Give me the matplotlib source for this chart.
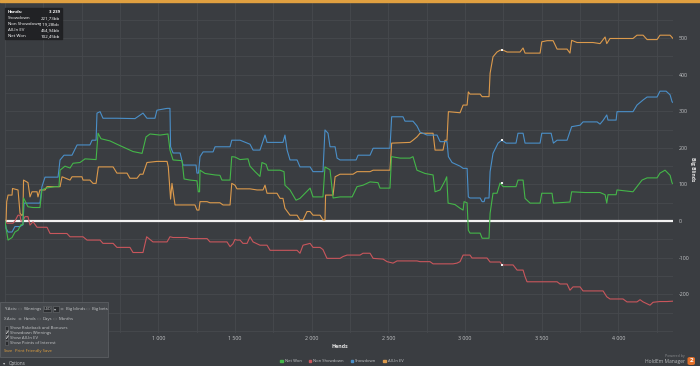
import matplotlib
matplotlib.use('Agg')
import matplotlib.pyplot as plt
from matplotlib.patches import Rectangle, FancyBboxPatch, Circle

# ---------------- data ----------------
net_won_hands = [0, 7, 20, 46, 65, 85, 104, 117, 121, 150, 183, 228, 241, 267, 326, 352, 359, 391, 424, 444, 489, 522, 594, 607, 626, 685, 730, 783, 835, 894, 920, 946, 1011, 1063, 1076, 1096, 1155, 1168, 1207, 1252, 1261, 1269, 1272, 1305, 1370, 1402, 1415, 1468, 1479, 1500, 1533, 1585, 1598, 1631, 1663, 1676, 1703, 1716, 1794, 1820, 1826, 1859, 1898, 1924, 1990, 2009, 2074, 2087, 2120, 2140, 2185, 2264, 2296, 2335, 2381, 2433, 2446, 2511, 2521, 2577, 2642, 2661, 2687, 2740, 2792, 2805, 2838, 2870, 2881, 2890, 2935, 2968, 2988, 2994, 3014, 3022, 3033, 3099, 3112, 3157, 3164, 3183, 3209, 3229, 3249, 3333, 3346, 3379, 3392, 3425, 3490, 3501, 3568, 3577, 3685, 3696, 3783, 3881, 3914, 3925, 3933, 3986, 3992, 4096, 4122, 4155, 4188, 4253, 4272, 4305, 4338, 4351, 4357]
net_won_bb = [0, -20, -52, -45, -30, -25, -10, -10, 63, 39, 37, 37, 85, 90, 94, 94, 139, 150, 145, 158, 160, 170, 168, 240, 225, 219, 210, 200, 190, 185, 230, 238, 235, 238, 194, 167, 165, 115, 112, 110, 80, 80, 139, 130, 126, 125, 112, 112, 176, 175, 168, 170, 150, 135, 122, 160, 155, 139, 139, 135, 98, 85, 57, 62, 90, 66, 66, 148, 140, 63, 66, 66, 94, 98, 107, 105, 90, 90, 176, 172, 172, 176, 139, 130, 126, 80, 85, 110, 121, 49, 45, 35, 30, 53, 50, -25, -33, -33, -47, -47, 21, 76, 76, 104, 94, 94, 112, 112, 62, 49, 49, 76, 76, 49, 52, 80, 78, 78, 72, 49, 72, 72, 85, 80, 94, 112, 118, 118, 131, 139, 125, 104, 102]

showdown_hands = [0, 7, 20, 46, 65, 98, 117, 124, 163, 228, 241, 261, 346, 359, 385, 437, 470, 554, 568, 594, 600, 620, 639, 730, 848, 900, 926, 978, 991, 1057, 1076, 1080, 1096, 1142, 1161, 1246, 1252, 1262, 1272, 1292, 1357, 1370, 1468, 1479, 1533, 1598, 1618, 1663, 1676, 1696, 1709, 1813, 1826, 1840, 1859, 1905, 1924, 1990, 2009, 2074, 2087, 2107, 2120, 2153, 2166, 2185, 2290, 2303, 2381, 2401, 2511, 2522, 2596, 2609, 2661, 2687, 2707, 2753, 2818, 2838, 2883, 2892, 2916, 2968, 2988, 3014, 3022, 3033, 3099, 3112, 3125, 3131, 3157, 3164, 3183, 3216, 3240, 3268, 3333, 3346, 3379, 3392, 3490, 3501, 3562, 3577, 3601, 3666, 3696, 3751, 3770, 3862, 3881, 3901, 3925, 3933, 3986, 3992, 4096, 4122, 4162, 4188, 4253, 4272, 4312, 4338, 4351, 4357]
showdown_bb = [0, -20, -30, -30, -15, -15, -10, 49, 49, 49, 94, 120, 120, 167, 180, 180, 208, 208, 221, 221, 295, 299, 281, 281, 280, 295, 281, 281, 303, 308, 308, 203, 186, 186, 153, 153, 131, 131, 176, 189, 189, 203, 203, 221, 221, 210, 194, 194, 210, 235, 215, 215, 235, 194, 167, 167, 148, 148, 135, 135, 249, 240, 203, 203, 172, 167, 167, 180, 180, 199, 199, 285, 285, 273, 273, 260, 243, 235, 235, 217, 217, 176, 160, 150, 144, 144, 66, 63, 63, 53, 53, 63, 63, 135, 185, 213, 221, 213, 213, 240, 240, 213, 213, 240, 240, 213, 221, 221, 258, 262, 271, 271, 265, 275, 290, 276, 276, 299, 299, 317, 331, 339, 339, 355, 355, 345, 326, 324]

non_showdown_hands = [0, 13, 52, 65, 85, 98, 104, 117, 130, 150, 163, 183, 209, 274, 294, 404, 424, 509, 535, 620, 639, 705, 730, 815, 835, 900, 924, 965, 1057, 1076, 1096, 1187, 1207, 1318, 1337, 1448, 1468, 1487, 1500, 1513, 1533, 1552, 1579, 1598, 1618, 1663, 1709, 1729, 1905, 1924, 1944, 1990, 2009, 2055, 2074, 2100, 2185, 2205, 2231, 2316, 2335, 2381, 2401, 2466, 2492, 2531, 2557, 2687, 2707, 2772, 2792, 2922, 2948, 2968, 2988, 3033, 3046, 3144, 3164, 3229, 3242, 3314, 3340, 3379, 3392, 3405, 3601, 3620, 3666, 3685, 3705, 3751, 3770, 3901, 3925, 3946, 4031, 4057, 4122, 4142, 4162, 4207, 4227, 4272, 4318, 4357]
non_showdown_bb = [0, -6, -6, 0, 16, 16, 0, 0, 12, 12, -11, -2, -17, -17, -34, -34, -43, -43, -52, -52, -61, -61, -72, -72, -86, -86, -43, -57, -57, -43, -45, -45, -48, -48, -57, -57, -70, -62, -50, -52, -52, -61, -61, -43, -57, -66, -66, -80, -80, -88, -66, -61, -72, -72, -78, -102, -102, -97, -93, -93, -88, -88, -102, -104, -111, -115, -109, -109, -111, -111, -117, -117, -115, -111, -93, -93, -101, -101, -112, -112, -120, -120, -134, -134, -152, -166, -166, -172, -172, -189, -180, -180, -191, -191, -207, -213, -213, -221, -221, -215, -221, -230, -222, -220, -220, -219]

allin_ev_hands = [0, 7, 11, 20, 46, 49, 85, 98, 111, 117, 121, 150, 163, 176, 209, 215, 228, 261, 274, 359, 372, 424, 437, 502, 509, 554, 574, 594, 609, 705, 730, 796, 815, 861, 881, 900, 926, 991, 1057, 1065, 1076, 1080, 1089, 1109, 1239, 1252, 1265, 1272, 1318, 1337, 1402, 1422, 1468, 1479, 1500, 1513, 1598, 1644, 1683, 1696, 1709, 1774, 1794, 1813, 1826, 1859, 1905, 1924, 1944, 1970, 1990, 2009, 2055, 2074, 2087, 2091, 2140, 2153, 2185, 2270, 2296, 2381, 2401, 2511, 2522, 2642, 2661, 2687, 2707, 2792, 2805, 2857, 2870, 2883, 2892, 2968, 2988, 3014, 3022, 3033, 3099, 3112, 3157, 3164, 3183, 3209, 3229, 3249, 3275, 3359, 3379, 3392, 3490, 3501, 3536, 3575, 3601, 3666, 3685, 3696, 3731, 3835, 3881, 3914, 3925, 3946, 4096, 4122, 4162, 4188, 4253, 4272, 4338, 4357]
allin_ev_bb = [0, 0, 53, 71, 71, 89, 85, 21, 15, 20, 112, 105, 66, 80, 80, 66, 85, 85, 94, 94, 121, 112, 121, 121, 112, 112, 103, 103, 148, 148, 131, 131, 117, 117, 128, 128, 160, 163, 163, 148, 85, 60, 103, 44, 44, 30, 30, 53, 53, 50, 50, 44, 44, 103, 98, 88, 88, 85, 85, 98, 76, 76, 62, 62, 35, 16, 16, 3, 3, 26, 26, 16, 16, 3, 3, 71, 71, 121, 128, 128, 135, 135, 139, 139, 213, 215, 221, 230, 240, 240, 194, 194, 221, 221, 299, 296, 317, 317, 353, 347, 347, 340, 340, 404, 449, 462, 467, 467, 462, 462, 473, 459, 459, 490, 493, 493, 470, 470, 459, 494, 488, 488, 485, 503, 485, 499, 499, 508, 508, 496, 496, 508, 508, 499]

poi_hand = 3240
poi_values = [103, -120, 221, 467]   # net won, non showdown, showdown, all-in ev

series_names = ['Net Won', 'Non Showdown', 'Showdown', 'All-In EV']
series_colors = ['#44b649', '#c9565c', '#4a8fc8', '#dc9a4c']

x_ticks = [500, 1000, 1500, 2000, 2500, 3000, 3500, 4000]
x_tick_labels = ['500', '1 000', '1 500', '2 000', '2 500', '3 000', '3 500', '4 000']
y_ticks = [-200, -100, 0, 100, 200, 300, 400, 500]
y_tick_labels = ['-200', '-100', '0', '100', '200', '300', '400', '500']

stats_labels = ['Hands:', 'Showdown', 'Non Showdown', 'All-In EV', 'Net Won']
stats_values = ['3 239', '221,73bb', '-119,28bb', '464,94bb', '102,45bb']

# ---------------- style ----------------
W, H = 700, 366
BG = '#3a3d41'
GRID = '#46494e'
TXT = '#c4c6c8'
FONT = ['Open Sans', 'DejaVu Sans']
plt.rcParams['font.family'] = FONT

fig = plt.figure(figsize=(W / 100, H / 100), dpi=100, facecolor=BG)


def fx(x):
    return x / W


def fy(y):
    return 1 - y / H


ax = fig.add_axes([fx(5), fy(333), (673 - 5) / W, (333 - 3) / H])
ax.set_facecolor(BG)
ax.set_xlim(0, 4357)
ax.set_ylim(-306, 596)
for s in ax.spines.values():
    s.set_visible(False)

ax.set_xticks(range(0, 4357, 250), minor=True)
ax.set_yticks(range(-300, 600, 50), minor=True)
ax.grid(True, which='minor', color=GRID, lw=0.6)
ax.grid(True, which='major', color=GRID, lw=0.6)
ax.axvline(4357, color=GRID, lw=0.8)

ax.set_xticks(x_ticks)
ax.set_xticklabels(x_tick_labels)
ax.set_yticks(y_ticks)
ax.set_yticklabels(y_tick_labels)
ax.yaxis.tick_right()
ax.tick_params(axis='both', which='both', length=0, colors=TXT, labelsize=3.8)
ax.tick_params(axis='x', pad=2)
ax.tick_params(axis='y', pad=4)

ax.plot([0, 4357], [0, 0], color='#f2f2f2', lw=1.6, zorder=2)

data = [(net_won_hands, net_won_bb), (non_showdown_hands, non_showdown_bb),
        (showdown_hands, showdown_bb), (allin_ev_hands, allin_ev_bb)]
order = [3, 1, 2, 0]
for i in order:
    h, v = data[i]
    ax.plot(h, v, color=series_colors[i], lw=0.8, zorder=3 + (i == 0))
for i, v in enumerate(poi_values):
    ax.plot([poi_hand], [v], marker='s', ms=1.8, color='#f0f0f0', mew=0, zorder=6)

# top orange bar
fig.patches.append(Rectangle((0, fy(2)), 1, 2 / H, transform=fig.transFigure,
                             color='#e0a040', zorder=10))

# axis titles
fig.text(fx(340), fy(347), 'Hands', color='#e6e6e6', fontsize=3.8,
         fontweight='bold', ha='center', va='center')
fig.text(fx(692), fy(169), 'Big Blinds', color='#e6e6e6', fontsize=3.6,
         fontweight='bold', ha='center', va='center', rotation=270)

# stats box
fig.patches.append(Rectangle((fx(5), fy(39)), 57 / W, 31 / H, transform=fig.transFigure,
                             color='#1f2022', alpha=0.9, zorder=10))
for k, (lab, val) in enumerate(zip(stats_labels, stats_values)):
    yy = 11.7 + k * 6.1
    fig.text(fx(7.5), fy(yy), lab, color='white', fontsize=3.2, ha='left',
             va='center', zorder=11, fontweight='bold' if k == 0 else 'normal')
    fig.text(fx(60), fy(yy), val, color='white', fontsize=3.2, ha='right',
             va='center', zorder=11, fontweight='bold' if k == 0 else 'normal')

# legend: laid out sequentially, centred under the plot
renderer = fig.canvas.get_renderer()
leg_fs = 3.0
items = []
total = 0.0
for name in series_names:
    tt = fig.text(0, 0, name, fontsize=leg_fs)
    w = tt.get_window_extent(renderer).width
    tt.remove()
    items.append(w)
    total += 4.5 + w
gap = 7.0
total += gap * (len(series_names) - 1)
xcur = 342 - total / 2
for i, name in enumerate(series_names):
    fig.patches.append(Rectangle((fx(xcur), fy(362.3)), 2.6 / W, 2.6 / H,
                                 transform=fig.transFigure, color=series_colors[i], zorder=10))
    fig.text(fx(xcur + 4.5), fy(361), name, color=TXT, fontsize=leg_fs,
             ha='left', va='center')
    xcur += 4.5 + items[i] + gap

# options panel
fig.patches.append(Rectangle((0, fy(357)), 108 / W, 55 / H, transform=fig.transFigure,
                             facecolor='#45484c', edgecolor='#5b5e62', lw=0.6, zorder=10))
fs = 3.1


def t(x, y, s, color=TXT, **kw):
    fig.text(fx(x), fy(y), s, color=color, fontsize=fs, ha='left', va='center', zorder=12, **kw)


def radio(x, y, on):
    fig.patches.append(Circle((fx(x), fy(y)), 1.6 / W, transform=fig.transFigure,
                              facecolor='#2a2c2f', edgecolor='#6a6d70', lw=0.4, zorder=11))
    if on:
        fig.patches.append(Circle((fx(x), fy(y)), 0.8 / W, transform=fig.transFigure,
                                  facecolor='#d8d8d8', lw=0, zorder=12))


t(4, 309, 'Y-Axis:')
radio(20, 309, False)
t(23.5, 309, 'Winnings')
fig.patches.append(Rectangle((fx(43), fy(312)), 8.5 / W, 6 / H, transform=fig.transFigure,
                             facecolor='#2b2d30', edgecolor='#6a6d70', lw=0.4, zorder=11))
fig.text(fx(47.2), fy(309), 'USD', color=TXT, fontsize=2.8, ha='center', va='center', zorder=12)
fig.patches.append(Rectangle((fx(52.5), fy(312)), 6 / W, 6 / H, transform=fig.transFigure,
                             facecolor='#2b2d30', edgecolor='#6a6d70', lw=0.4, zorder=11))
fig.text(fx(55.5), fy(309.3), '▾', color=TXT, fontsize=3, ha='center', va='center', zorder=12)
radio(62, 309, True)
t(65.5, 309, 'Big blinds')
radio(88, 309, False)
t(91.5, 309, 'Big bets')

t(4, 319, 'X-Axis:')
radio(20, 319, True)
t(23.5, 319, 'Hands')
radio(39, 319, False)
t(42.5, 319, 'Days')
radio(55, 319, False)
t(58.5, 319, 'Months')

checks = [('Show Rakeback and Bonuses', False), ('Showdown Winnings', True),
          ('Show All-In EV', True), ('Show Points of Interest', False)]
for k, (lab, on) in enumerate(checks):
    yy = 328 + k * 5
    fig.patches.append(Rectangle((fx(4.5), fy(yy + 1.7)), 3.4 / W, 3.4 / H, transform=fig.transFigure,
                                 facecolor='#2a2c2f', edgecolor='#6a6d70', lw=0.4, zorder=11))
    if on:
        fig.text(fx(6.4), fy(yy - 0.5), '✓', color='white', fontsize=4.2, ha='center',
                 va='center', zorder=13, fontweight='bold')
    t(10.5, yy, lab)

t(4, 351, 'Save', color='#e0a040')
t(15.5, 351, 'Print Friendly Save', color='#e0a040')
fig.lines.append(plt.Line2D([fx(4), fx(11)], [fy(352.8)] * 2, transform=fig.transFigure,
                            color='#e0a040', lw=0.3))
fig.lines.append(plt.Line2D([fx(15.5), fx(49)], [fy(352.8)] * 2, transform=fig.transFigure,
                            color='#e0a040', lw=0.3))

fig.text(fx(4), fy(363.3), '▾', color=TXT, fontsize=3.2, ha='center', va='center')
fig.text(fx(8.5), fy(363), 'Options', color=TXT, fontsize=3.3, ha='left', va='center')

# powered by
fig.text(fx(685), fy(355.5), 'Powered by', color='#8a8c8e', fontsize=2.6, ha='right', va='center')
fig.text(fx(685), fy(361), "HoldEm Manager", color='#b4b6b8', fontsize=3.6, ha='right', va='center')
fig.patches.append(FancyBboxPatch((fx(687.5), fy(365)), 7.5 / W, 8 / H,
                                  boxstyle='round,pad=0,rounding_size=0.004',
                                  transform=fig.transFigure, facecolor='#e2702a', lw=0, zorder=10))
fig.text(fx(691.2), fy(361), '2', color='white', fontsize=4.5, fontweight='bold',
         ha='center', va='center', zorder=11)

fig.savefig('out.png', dpi=100, facecolor=BG)
